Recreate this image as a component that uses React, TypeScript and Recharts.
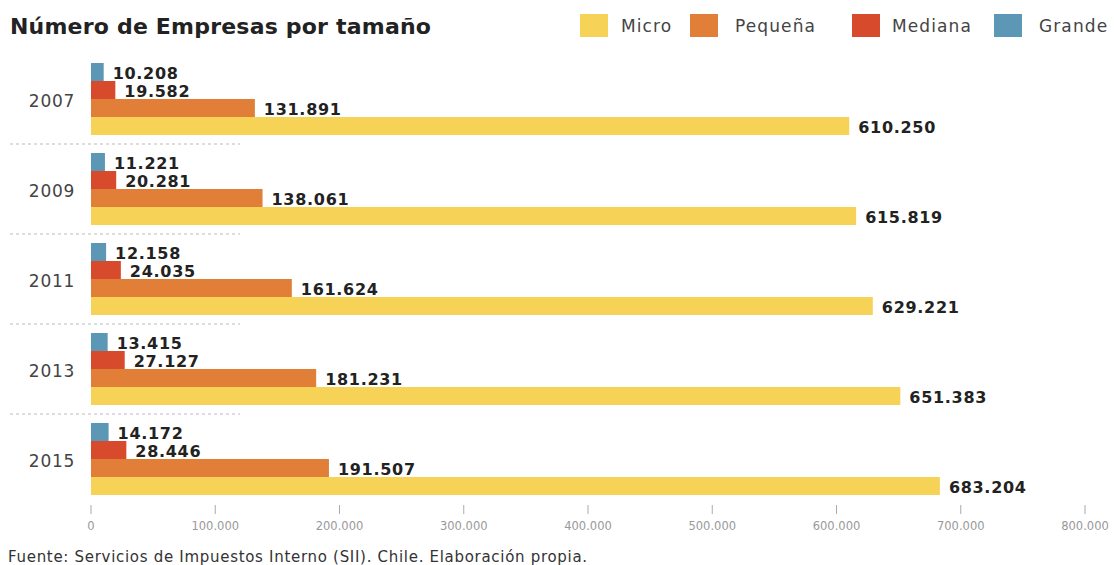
import React from "react";
import { BarChart, Bar, XAxis, YAxis, LabelList } from "recharts";

const years = ["2007", "2009", "2011", "2013", "2015"];
const micro = [610250, 615819, 629221, 651383, 683204];
const pequena = [131891, 138061, 161624, 181231, 191507];
const mediana = [19582, 20281, 24035, 27127, 28446];
const grande = [10208, 11221, 12158, 13415, 14172];
const xTicks = [0, 100000, 200000, 300000, 400000, 500000, 600000, 700000, 800000];

const COLORS = {
  micro: "#F6D256",
  pequena: "#E17E37",
  mediana: "#D84A2C",
  grande: "#5C97B5",
};

const legendItems = [
  { name: "Micro", color: COLORS.micro, x: 580, tx: 621 },
  { name: "Pequeña", color: COLORS.pequena, x: 690, tx: 735 },
  { name: "Mediana", color: COLORS.mediana, x: 852, tx: 892 },
  { name: "Grande", color: COLORS.grande, x: 994, tx: 1039 },
];

const data = years.map((y, i) => ({
  year: y,
  micro: micro[i],
  pequena: pequena[i],
  mediana: mediana[i],
  grande: grande[i],
}));

const fmt = (v: number) => String(v).replace(/\B(?=(\d{3})+(?!\d))/g, ".");

const FONT = "'DejaVu Sans', sans-serif";

const XTick = (props: any) => {
  const { x, y, payload } = props;
  return (
    <g>
      <line x1={x} x2={x} y1={y + 1} y2={y + 10} stroke="#aaa" strokeWidth={1} />
      <text x={x} y={y + 26} textAnchor="middle" fill="#999" fontSize={11.5} fontFamily={FONT}>
        {fmt(payload.value)}
      </text>
    </g>
  );
};

const YTick = (props: any) => {
  const { y, payload, index } = props;
  return (
    <g>
      <text x={52} y={y + 8} textAnchor="middle" fill="#444" fontSize={17} letterSpacing={0.8} fontFamily={FONT}>
        {payload.value}
      </text>
      {index < years.length - 1 && (
        <line x1={10} x2={240} y1={y + 45} y2={y + 45} stroke="#bbb" strokeDasharray="3 3" />
      )}
    </g>
  );
};

const valueLabel = (props: any) => {
  const { x, y, width, height, value } = props;
  return (
    <text
      x={x + width + 9}
      y={y + height / 2 + 7}
      fill="#222"
      fontSize={16}
      letterSpacing={0.7}
      fontWeight="bold"
      fontFamily={FONT}
    >
      {fmt(value)}
    </text>
  );
};

const App = () => {
  return (
    <div style={{ position: "absolute", left: 0, top: 0, width: 1116, height: 565, background: "#fff", fontFamily: FONT }}>
      <div style={{ position: "absolute", left: 10, top: 14, fontSize: 22, letterSpacing: 0.2, fontWeight: "bold", color: "#222" }}>
        Número de Empresas por tamaño
      </div>
      {legendItems.map((l) => (
        <React.Fragment key={l.name}>
          <div style={{ position: "absolute", left: l.x, top: 14, width: 28, height: 23, background: l.color }} />
          <div style={{ position: "absolute", left: l.tx, top: 16, fontSize: 17, letterSpacing: 1.1, color: "#444" }}>{l.name}</div>
        </React.Fragment>
      ))}
      <div style={{ position: "absolute", left: 8, top: 548, fontSize: 15, letterSpacing: 0.7, color: "#333" }}>
        Fuente: Servicios de Impuestos Interno (SII). Chile. Elaboración propia.
      </div>
      <div style={{ position: "absolute", left: 0, top: 0 }}>
        <BarChart
          width={1116}
          height={565}
          data={data}
          layout="vertical"
          margin={{ top: 54, right: 31, bottom: 30, left: 0 }}
          barCategoryGap={9}
          barGap={0}
        >
          <XAxis
            type="number"
            domain={[0, 800000]}
            ticks={xTicks}
            axisLine={false}
            tickLine={false}
            tickSize={0}
            tickMargin={0}
            height={31}
            interval={0}
            tick={<XTick />}
          />
          <YAxis
            type="category"
            dataKey="year"
            width={91}
            axisLine={false}
            tickLine={false}
            tick={<YTick />}
          />
          <Bar dataKey="grande" fill={COLORS.grande} isAnimationActive={false}>
            <LabelList dataKey="grande" content={valueLabel} />
          </Bar>
          <Bar dataKey="mediana" fill={COLORS.mediana} isAnimationActive={false}>
            <LabelList dataKey="mediana" content={valueLabel} />
          </Bar>
          <Bar dataKey="pequena" fill={COLORS.pequena} isAnimationActive={false}>
            <LabelList dataKey="pequena" content={valueLabel} />
          </Bar>
          <Bar dataKey="micro" fill={COLORS.micro} isAnimationActive={false}>
            <LabelList dataKey="micro" content={valueLabel} />
          </Bar>
        </BarChart>
      </div>
    </div>
  );
};

export default App;
